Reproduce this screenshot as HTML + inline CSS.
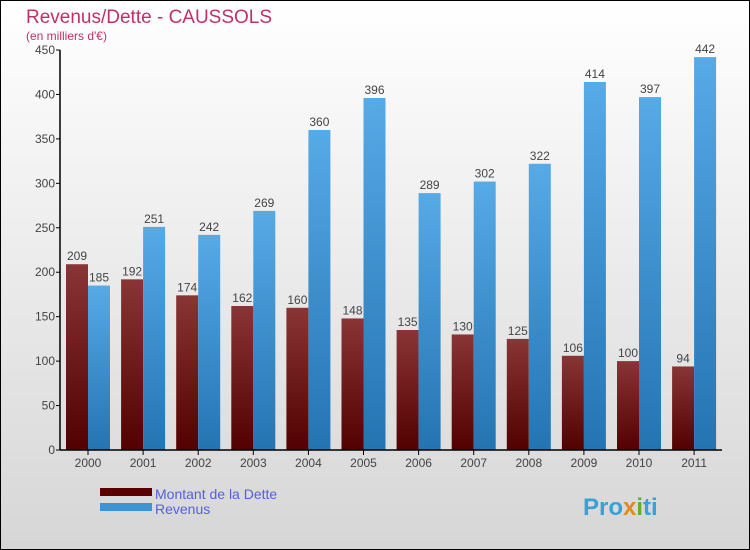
<!DOCTYPE html>
<html><head><meta charset="utf-8"><style>
body{margin:0}
svg{display:block;font-family:"Liberation Sans",sans-serif}
</style></head><body>
<svg width="750" height="550" xmlns="http://www.w3.org/2000/svg">
<defs>
<linearGradient id="bg" x1="0" y1="0" x2="0" y2="1"><stop offset="0" stop-color="#ffffff"/><stop offset="1" stop-color="#d6d6d6"/></linearGradient>
<linearGradient id="gd" x1="0" y1="0" x2="0" y2="1"><stop offset="0" stop-color="#8a3535"/><stop offset="1" stop-color="#520000"/></linearGradient>
<linearGradient id="gr" x1="0" y1="0" x2="0" y2="1"><stop offset="0" stop-color="#56aae6"/><stop offset="1" stop-color="#2474b2"/></linearGradient>
</defs>
<rect x="0.5" y="0.5" width="749" height="549" fill="url(#bg)" stroke="#000"/>
<text x="26" y="23" font-size="19" fill="#c0306a">Revenus/Dette - CAUSSOLS</text>
<text x="26" y="40" font-size="12" fill="#c0306a">(en milliers d'€)</text>
<g id="plot"></g>
<g>
<rect x="100" y="488" width="52" height="8" fill="#5a0000"/>
<text x="155" y="499" font-size="14" fill="#5560e0">Montant de la Dette</text>
<rect x="100" y="503" width="52" height="8" fill="#3c94d8"/>
<text x="155" y="514" font-size="14" fill="#5560e0">Revenus</text>
</g>
<text x="583" y="515" font-size="24" font-weight="bold" fill="#3aa0d8">Pro<tspan fill="#e08a20">x</tspan><tspan fill="#60b030">i</tspan>ti</text>
</svg>
<script>
const years=["2000","2001","2002","2003","2004","2005","2006","2007","2008","2009","2010","2011"];
const dette=[209,192,174,162,160,148,135,130,125,106,100,94];
const revenus=[185,251,242,269,360,396,289,302,322,414,397,442];
const ticks=[0,50,100,150,200,250,300,350,400,450];
const NS="http://www.w3.org/2000/svg";
const g=document.getElementById('plot');
const x0=60,y0=450,step=55.1,bw=22,yMax=450,ph=400;
const y=v=>y0-v/yMax*ph;
function mk(t,a,txt){const e=document.createElementNS(NS,t);for(const k in a)e.setAttribute(k,a[k]);if(txt!==undefined)e.textContent=txt;g.appendChild(e);return e;}
years.forEach((yr,i)=>{
 const gx=x0+i*step+6;
 let r=mk('rect',{x:gx,y:y(dette[i]),width:bw,height:y0-y(dette[i]),fill:'url(#gd)'});
 
 
 r=mk('rect',{x:gx+bw,y:y(revenus[i]),width:bw,height:y0-y(revenus[i]),fill:'url(#gr)'});
 
 
 let t=mk('text',{x:gx+bw/2,y:y(dette[i])-4,'font-size':12,fill:'#444','text-anchor':'middle'},dette[i]);
 
 
 t=mk('text',{x:gx+bw*1.5,y:y(revenus[i])-4,'font-size':12,fill:'#444','text-anchor':'middle'},revenus[i]);
 
 
 mk('line',{x1:gx+bw,x2:gx+bw,y1:y0,y2:y0+5,stroke:'#000'});
 t=mk('text',{x:gx+bw,y:y0+17,'font-size':12,fill:'#444','text-anchor':'middle'},yr);
 
 
});
ticks.forEach(v=>{
 mk('line',{x1:x0-4,x2:x0,y1:y(v),y2:y(v),stroke:'#000'});
 const t=mk('text',{x:x0-5,y:y(v)+4,'font-size':12,fill:'#444','text-anchor':'end'},v);
 
 
});
let ax=mk('line',{x1:x0,x2:x0,y1:y0,y2:y(450),stroke:'#000','stroke-width':1.5});


ax=mk('line',{x1:x0,x2:722,y1:y0,y2:y0,stroke:'#000','stroke-width':1.5});


</script>
</body></html>
